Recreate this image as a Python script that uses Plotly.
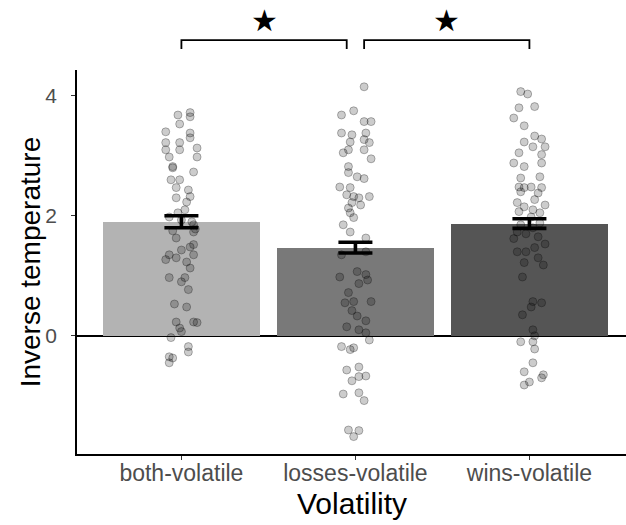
import plotly.graph_objects as go

categories = ["both-volatile", "losses-volatile", "wins-volatile"]
means = [1.90, 1.47, 1.87]
se = [0.10, 0.09, 0.08]
bar_colors = ["#B3B3B3", "#797979", "#555555"]

# (jitter offset in category units, inverse temperature)
both_points = [
    (-0.02, 3.68), (0.05, 3.72), (-0.01, 3.53), (0.05, 3.65), (-0.09, 3.40), (0.05, 3.38),
    (0.05, 3.30), (-0.09, 3.22), (-0.01, 3.22), (-0.09, 3.10), (-0.01, 3.10), (0.09, 3.13),
    (-0.07, 2.98), (0.09, 2.98), (-0.05, 2.82), (-0.05, 2.80), (0.07, 2.73), (-0.06, 2.60),
    (-0.01, 2.60), (-0.03, 2.47), (0.04, 2.43), (0.05, 2.32), (-0.03, 2.30), (0.03, 2.23),
    (0.02, 2.10), (-0.07, 1.98), (0.00, 1.93), (0.07, 1.85), (-0.03, 1.63), (0.07, 1.73),
    (0.05, 1.48), (0.07, 1.52), (0.00, 1.43), (-0.07, 1.35), (-0.09, 1.27), (-0.03, 1.30),
    (0.07, 1.35), (0.03, 1.23), (0.05, 1.13), (-0.07, 0.97), (0.00, 0.90), (0.02, 0.97),
    (0.04, 0.77), (-0.04, 0.53), (0.03, 0.48), (-0.03, 0.23), (0.07, 0.23), (0.09, 0.22),
    (-0.01, 0.13), (0.00, 0.07), (-0.06, -0.03), (0.04, -0.18), (0.04, -0.27), (-0.07, -0.35),
    (-0.05, -0.37), (-0.07, -0.45), (-0.02, 2.05), (0.06, 1.90), (0.08, 1.78), (-0.05, 1.75),
]
losses_points = [
    (0.05, 4.15), (-0.08, 3.68), (-0.01, 3.75), (0.05, 3.57), (0.09, 3.57), (-0.08, 3.38),
    (-0.02, 3.35), (0.06, 3.38), (-0.03, 3.23), (0.05, 3.27), (0.08, 3.22), (-0.07, 3.05),
    (-0.04, 3.10), (0.05, 3.10), (0.09, 2.95), (-0.04, 2.82), (-0.04, 2.72), (0.01, 2.65),
    (0.05, 2.62), (-0.09, 2.48), (-0.03, 2.47), (-0.05, 2.35), (-0.01, 2.32), (0.02, 2.30),
    (0.08, 2.32), (-0.02, 2.22), (0.03, 2.18), (-0.04, 2.13), (-0.03, 2.05), (-0.01, 1.97),
    (-0.07, 1.85), (-0.03, 1.73), (0.06, 1.63), (-0.08, 1.35), (0.06, 1.40), (0.01, 1.07),
    (0.06, 1.02), (-0.09, 0.98), (0.07, 0.93), (0.02, 0.87), (-0.04, 0.72), (-0.06, 0.55),
    (-0.01, 0.57), (0.09, 0.57), (-0.02, 0.42), (0.01, 0.33), (0.06, 0.25), (-0.05, 0.15),
    (0.02, 0.10), (0.06, 0.05), (0.08, -0.07), (-0.08, -0.18), (-0.03, -0.23), (-0.01, -0.20),
    (-0.05, -0.57), (0.02, -0.52), (-0.02, -0.75), (0.02, -0.68), (0.06, -0.67), (-0.07, -0.97),
    (0.02, -0.95), (0.05, -1.08), (-0.04, -1.57), (0.02, -1.58), (-0.01, -1.68),
]
wins_points = [
    (-0.05, 4.07), (-0.01, 4.03), (-0.06, 3.80), (0.03, 3.82), (-0.09, 3.63), (-0.03, 3.50),
    (0.03, 3.33), (-0.03, 3.23), (0.07, 3.28), (0.02, 3.15), (0.09, 3.15), (-0.06, 3.05),
    (0.07, 3.02), (-0.09, 2.88), (-0.03, 2.82), (0.07, 2.88), (-0.05, 2.63), (0.06, 2.65),
    (-0.06, 2.48), (-0.03, 2.47), (0.01, 2.48), (0.07, 2.47), (-0.05, 2.40), (0.05, 2.38),
    (0.03, 2.27), (-0.07, 2.22), (-0.03, 2.15), (0.09, 2.18), (0.02, 2.10), (0.06, 2.05),
    (-0.06, 2.07), (0.01, 1.98), (-0.07, 1.73), (-0.09, 1.62), (0.09, 1.53), (-0.07, 1.40),
    (-0.02, 1.40), (0.03, 1.47), (0.05, 1.30), (0.08, 1.18), (-0.03, 1.22), (-0.04, 0.98),
    (0.02, 0.57), (0.01, 0.48), (0.07, 0.55), (-0.04, 0.35), (0.02, 0.10), (0.03, 0.00),
    (-0.05, -0.10), (0.02, -0.10), (0.03, -0.22), (0.02, -0.45), (-0.03, -0.60), (0.08, -0.65),
    (0.00, -0.77), (-0.03, -0.82), (0.07, -0.70), (-0.05, 1.85), (0.02, 1.80), (0.06, 1.88),
    (-0.02, 1.70), (0.05, 1.65),
]
groups_points = [both_points, losses_points, wins_points]

# significance comparisons: (from category, to category, label)
comparisons = [(0, 0.95, "★"), (1.05, 2, "★")]

FONT = "Liberation Sans, Arial, sans-serif"
idx = list(range(len(categories)))

fig = go.Figure()
fig.add_trace(go.Bar(
    x=idx, y=means, width=0.9,
    marker=dict(color=bar_colors, line=dict(width=0)),
    showlegend=False, hoverinfo="skip",
))
for i, pts in enumerate(groups_points):
    fig.add_trace(go.Scatter(
        x=[i + dx for dx, _ in pts], y=[v for _, v in pts], mode="markers",
        marker=dict(size=8, color="rgba(0,0,0,0.2)",
                    line=dict(color="rgba(0,0,0,0.28)", width=1)),
        showlegend=False, hoverinfo="skip", cliponaxis=False,
    ))
fig.add_trace(go.Scatter(
    x=idx, y=means, mode="markers", marker=dict(size=1, opacity=0),
    error_y=dict(type="data", array=se, color="black", thickness=3.6, width=17),
    showlegend=False, hoverinfo="skip",
))

for x0, x1, lab in comparisons:
    fig.add_shape(type="path", xref="x", yref="paper",
                  path=f"M {x0},1.055 L {x0},1.078 L {x1},1.078 L {x1},1.055",
                  line=dict(color="black", width=1.8))
    fig.add_annotation(x=(x0 + x1) / 2, y=1.13, xref="x", yref="paper", text=lab,
                       showarrow=False, font=dict(size=30, color="black", family="DejaVu Sans"),
                       yanchor="middle")

fig.add_annotation(x=-0.085, y=0.5, xref="paper", yref="paper", text="Inverse temperature",
                   textangle=-90, showarrow=False, xanchor="center", yanchor="middle",
                   font=dict(size=28, color="black", family=FONT))
fig.add_annotation(x=0.5, y=-0.128, xref="paper", yref="paper", text="Volatility",
                   showarrow=False, xanchor="center", yanchor="middle",
                   font=dict(size=30, color="black", family=FONT))

fig.update_layout(
    width=626, height=525,
    margin=dict(l=77, r=0, t=70, b=71),
    plot_bgcolor="white", paper_bgcolor="white",
    bargap=0,
    font=dict(family=FONT),
    xaxis=dict(
        range=[-0.6, 2.555], tickvals=idx, ticktext=categories,
        showline=True, linecolor="black", linewidth=1.5,
        ticks="outside", ticklen=4, tickcolor="#333333", tickwidth=1.2,
        tickfont=dict(size=23, color="#4D4D4D", family=FONT),
        ticklabelstandoff=-6,
        showgrid=False, zeroline=False,
    ),
    yaxis=dict(
        range=[-1.97, 4.43], tickvals=[0, 2, 4],
        showline=True, linecolor="black", linewidth=1.5,
        ticks="outside", ticklen=4, tickcolor="#333333", tickwidth=1.2,
        tickfont=dict(size=21, color="#4D4D4D", family=FONT),
        ticklabelstandoff=10,
        showgrid=False, zeroline=True, zerolinecolor="black", zerolinewidth=1.5,
    ),
)
fig.write_html("out.html")
